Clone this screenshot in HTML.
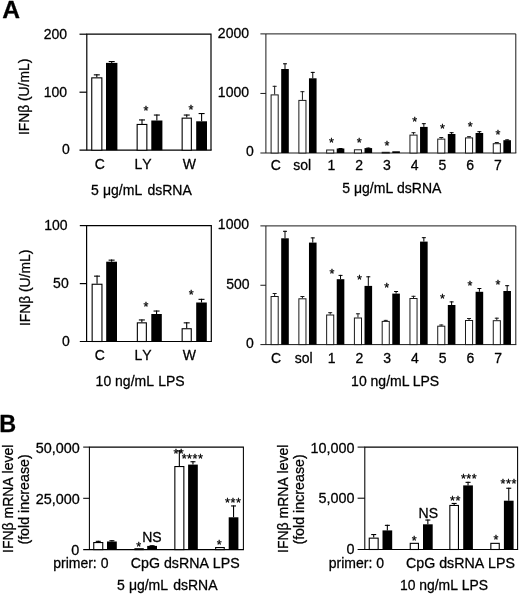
<!DOCTYPE html>
<html lang="en">
<head>
<meta charset="utf-8">
<title>Figure</title>
<style>
html,body{margin:0;padding:0;background:#fff;}
body{width:520px;height:595px;overflow:hidden;}
svg{display:block;will-change:transform;}
svg text{font-family:"Liberation Sans",Arial,Helvetica,sans-serif;fill:#000;stroke:#000;stroke-width:0.28px;stroke-linejoin:round;font-kerning:none;font-variant-ligatures:none;}
</style>
</head>
<body>
<svg width="520" height="595" viewBox="0 0 520 595">
<rect x="0" y="0" width="520" height="595" fill="#fff"/>
<text x="2.20" y="18.20" font-size="24.6" text-anchor="start" font-weight="bold">A</text>
<text x="-0.80" y="431.50" font-size="23.4" text-anchor="start" font-weight="bold">B</text>
<path d="M86.80 150.20V34.20H211.00V150.20" fill="none" stroke="#000" stroke-width="1.2" stroke-linejoin="miter"/>
<line x1="79.50" y1="150.20" x2="211.60" y2="150.20" stroke="#000" stroke-width="1.2"/>
<line x1="79.50" y1="34.20" x2="86.80" y2="34.20" stroke="#000" stroke-width="1.2"/>
<line x1="79.50" y1="92.20" x2="86.80" y2="92.20" stroke="#000" stroke-width="1.2"/>
<text x="67.00" y="38.61" font-size="14.0" text-anchor="end">200</text>
<text x="67.00" y="96.61" font-size="14.0" text-anchor="end">100</text>
<text x="69.90" y="154.01" font-size="14.0" text-anchor="end">0</text>
<text transform="translate(29.30 135.10) rotate(-90)" font-size="13.85">IFNβ (U/mL)</text>
<rect x="91.75" y="77.85" width="10.10" height="72.35" fill="#fff" stroke="#000" stroke-width="1.1"/>
<line x1="96.80" y1="77.30" x2="96.80" y2="74.30" stroke="#000" stroke-width="1.1"/>
<line x1="93.80" y1="74.85" x2="99.80" y2="74.85" stroke="#000" stroke-width="1.1"/>
<rect x="106.00" y="62.90" width="11.40" height="87.30" fill="#000"/>
<line x1="111.70" y1="62.90" x2="111.70" y2="61.00" stroke="#000" stroke-width="1.1"/>
<line x1="108.70" y1="61.55" x2="114.70" y2="61.55" stroke="#000" stroke-width="1.1"/>
<rect x="137.15" y="124.45" width="9.70" height="25.75" fill="#fff" stroke="#000" stroke-width="1.1"/>
<line x1="142.00" y1="123.90" x2="142.00" y2="119.40" stroke="#000" stroke-width="1.1"/>
<line x1="139.00" y1="119.95" x2="145.00" y2="119.95" stroke="#000" stroke-width="1.1"/>
<rect x="151.30" y="120.50" width="11.10" height="29.70" fill="#000"/>
<line x1="156.85" y1="120.50" x2="156.85" y2="114.50" stroke="#000" stroke-width="1.1"/>
<line x1="153.85" y1="115.05" x2="159.85" y2="115.05" stroke="#000" stroke-width="1.1"/>
<rect x="182.15" y="118.15" width="9.20" height="32.05" fill="#fff" stroke="#000" stroke-width="1.1"/>
<line x1="186.75" y1="117.60" x2="186.75" y2="114.50" stroke="#000" stroke-width="1.1"/>
<line x1="183.75" y1="115.05" x2="189.75" y2="115.05" stroke="#000" stroke-width="1.1"/>
<rect x="196.20" y="121.30" width="10.80" height="28.90" fill="#000"/>
<line x1="201.60" y1="121.30" x2="201.60" y2="113.00" stroke="#000" stroke-width="1.1"/>
<line x1="198.60" y1="113.55" x2="204.60" y2="113.55" stroke="#000" stroke-width="1.1"/>
<text x="146.18" y="115.14" font-size="12.6" text-anchor="middle" letter-spacing="0.55">*</text>
<text x="191.28" y="113.94" font-size="12.6" text-anchor="middle" letter-spacing="0.55">*</text>
<text x="99.70" y="169.00" font-size="14.0" text-anchor="middle">C</text>
<text x="143.00" y="169.00" font-size="14.0" text-anchor="middle">LY</text>
<text x="189.30" y="169.00" font-size="14.0" text-anchor="middle">W</text>
<text x="91.00" y="195.00" font-size="14.0" text-anchor="start">5 <tspan dx="0.3">μg/mL</tspan> <tspan dx="1.3">dsRNA</tspan></text>
<path d="M265.90 153.00V33.90H515.80V153.00" fill="none" stroke="#1a1a1a" stroke-width="1.0" stroke-linejoin="miter"/>
<line x1="260.40" y1="153.00" x2="516.30" y2="153.00" stroke="#1a1a1a" stroke-width="1.0"/>
<line x1="260.40" y1="33.90" x2="265.90" y2="33.90" stroke="#1a1a1a" stroke-width="1.0"/>
<line x1="260.40" y1="93.45" x2="265.90" y2="93.45" stroke="#1a1a1a" stroke-width="1.0"/>
<text x="249.00" y="37.61" font-size="14.0" text-anchor="end">2000</text>
<text x="249.00" y="97.11" font-size="14.0" text-anchor="end">1000</text>
<text x="253.90" y="156.21" font-size="14.0" text-anchor="end">0</text>
<rect x="271.10" y="94.90" width="7.10" height="58.10" fill="#fff" stroke="#1a1a1a" stroke-width="1.0"/>
<line x1="274.65" y1="94.40" x2="274.65" y2="85.80" stroke="#1a1a1a" stroke-width="1.0"/>
<line x1="272.65" y1="86.30" x2="276.65" y2="86.30" stroke="#1a1a1a" stroke-width="1.0"/>
<rect x="281.20" y="69.00" width="7.60" height="84.00" fill="#000"/>
<line x1="285.00" y1="69.00" x2="285.00" y2="63.30" stroke="#000" stroke-width="1.0"/>
<line x1="283.00" y1="63.80" x2="287.00" y2="63.80" stroke="#000" stroke-width="1.0"/>
<rect x="298.87" y="100.40" width="7.10" height="52.60" fill="#fff" stroke="#1a1a1a" stroke-width="1.0"/>
<line x1="302.42" y1="99.90" x2="302.42" y2="91.20" stroke="#1a1a1a" stroke-width="1.0"/>
<line x1="300.42" y1="91.70" x2="304.42" y2="91.70" stroke="#1a1a1a" stroke-width="1.0"/>
<rect x="308.97" y="78.30" width="7.60" height="74.70" fill="#000"/>
<line x1="312.77" y1="78.30" x2="312.77" y2="71.90" stroke="#000" stroke-width="1.0"/>
<line x1="310.77" y1="72.40" x2="314.77" y2="72.40" stroke="#000" stroke-width="1.0"/>
<rect x="326.64" y="150.00" width="7.10" height="3.00" fill="#fff" stroke="#1a1a1a" stroke-width="1.0"/>
<rect x="336.74" y="148.50" width="7.60" height="4.50" fill="#000"/>
<line x1="340.54" y1="148.50" x2="340.54" y2="148.00" stroke="#000" stroke-width="1.0"/>
<line x1="338.54" y1="148.50" x2="342.54" y2="148.50" stroke="#000" stroke-width="1.0"/>
<rect x="354.41" y="149.80" width="7.10" height="3.20" fill="#fff" stroke="#1a1a1a" stroke-width="1.0"/>
<rect x="364.51" y="148.10" width="7.60" height="4.90" fill="#000"/>
<line x1="368.31" y1="148.10" x2="368.31" y2="147.60" stroke="#000" stroke-width="1.0"/>
<line x1="366.31" y1="148.10" x2="370.31" y2="148.10" stroke="#000" stroke-width="1.0"/>
<rect x="382.18" y="152.30" width="7.10" height="0.70" fill="#fff" stroke="#1a1a1a" stroke-width="1.0"/>
<rect x="392.28" y="151.30" width="7.60" height="1.70" fill="#000"/>
<rect x="409.95" y="135.10" width="7.10" height="17.90" fill="#fff" stroke="#1a1a1a" stroke-width="1.0"/>
<line x1="413.50" y1="134.60" x2="413.50" y2="132.20" stroke="#1a1a1a" stroke-width="1.0"/>
<line x1="411.50" y1="132.70" x2="415.50" y2="132.70" stroke="#1a1a1a" stroke-width="1.0"/>
<rect x="420.05" y="126.90" width="7.60" height="26.10" fill="#000"/>
<line x1="423.85" y1="126.90" x2="423.85" y2="123.20" stroke="#000" stroke-width="1.0"/>
<line x1="421.85" y1="123.70" x2="425.85" y2="123.70" stroke="#000" stroke-width="1.0"/>
<rect x="437.72" y="139.10" width="7.10" height="13.90" fill="#fff" stroke="#1a1a1a" stroke-width="1.0"/>
<line x1="441.27" y1="138.60" x2="441.27" y2="137.00" stroke="#1a1a1a" stroke-width="1.0"/>
<line x1="439.27" y1="137.50" x2="443.27" y2="137.50" stroke="#1a1a1a" stroke-width="1.0"/>
<rect x="447.82" y="134.00" width="7.60" height="19.00" fill="#000"/>
<line x1="451.62" y1="134.00" x2="451.62" y2="132.20" stroke="#000" stroke-width="1.0"/>
<line x1="449.62" y1="132.70" x2="453.62" y2="132.70" stroke="#000" stroke-width="1.0"/>
<rect x="465.49" y="137.90" width="7.10" height="15.10" fill="#fff" stroke="#1a1a1a" stroke-width="1.0"/>
<line x1="469.04" y1="137.40" x2="469.04" y2="136.20" stroke="#1a1a1a" stroke-width="1.0"/>
<line x1="467.04" y1="136.70" x2="471.04" y2="136.70" stroke="#1a1a1a" stroke-width="1.0"/>
<rect x="475.59" y="133.00" width="7.60" height="20.00" fill="#000"/>
<line x1="479.39" y1="133.00" x2="479.39" y2="131.20" stroke="#000" stroke-width="1.0"/>
<line x1="477.39" y1="131.70" x2="481.39" y2="131.70" stroke="#000" stroke-width="1.0"/>
<rect x="493.26" y="143.70" width="7.10" height="9.30" fill="#fff" stroke="#1a1a1a" stroke-width="1.0"/>
<line x1="496.81" y1="143.20" x2="496.81" y2="142.00" stroke="#1a1a1a" stroke-width="1.0"/>
<line x1="494.81" y1="142.50" x2="498.81" y2="142.50" stroke="#1a1a1a" stroke-width="1.0"/>
<rect x="503.36" y="140.20" width="7.60" height="12.80" fill="#000"/>
<line x1="507.16" y1="140.20" x2="507.16" y2="139.40" stroke="#000" stroke-width="1.0"/>
<line x1="505.16" y1="139.90" x2="509.16" y2="139.90" stroke="#000" stroke-width="1.0"/>
<text x="275.80" y="170.40" font-size="14.0" text-anchor="middle">C</text>
<text x="302.27" y="170.40" font-size="14.0" text-anchor="middle">sol</text>
<text x="331.62" y="147.44" font-size="12.6" text-anchor="middle" letter-spacing="0.55">*</text>
<text x="331.34" y="170.40" font-size="14.0" text-anchor="middle">1</text>
<text x="359.38" y="146.84" font-size="12.6" text-anchor="middle" letter-spacing="0.55">*</text>
<text x="359.11" y="170.40" font-size="14.0" text-anchor="middle">2</text>
<text x="387.15" y="150.24" font-size="12.6" text-anchor="middle" letter-spacing="0.55">*</text>
<text x="386.88" y="170.40" font-size="14.0" text-anchor="middle">3</text>
<text x="414.93" y="125.73" font-size="12.6" text-anchor="middle" letter-spacing="0.55">*</text>
<text x="414.65" y="170.40" font-size="14.0" text-anchor="middle">4</text>
<text x="442.69" y="132.94" font-size="12.6" text-anchor="middle" letter-spacing="0.55">*</text>
<text x="442.42" y="170.40" font-size="14.0" text-anchor="middle">5</text>
<text x="470.46" y="131.03" font-size="12.6" text-anchor="middle" letter-spacing="0.55">*</text>
<text x="470.19" y="170.40" font-size="14.0" text-anchor="middle">6</text>
<text x="498.23" y="139.13" font-size="12.6" text-anchor="middle" letter-spacing="0.55">*</text>
<text x="497.96" y="170.40" font-size="14.0" text-anchor="middle">7</text>
<text x="342.30" y="192.60" font-size="14.0" text-anchor="start">5 μg/mL dsRNA</text>
<path d="M86.60 341.50V225.60H211.30V341.50" fill="none" stroke="#000" stroke-width="1.2" stroke-linejoin="miter"/>
<line x1="79.80" y1="341.50" x2="211.90" y2="341.50" stroke="#000" stroke-width="1.2"/>
<line x1="79.80" y1="225.60" x2="86.60" y2="225.60" stroke="#000" stroke-width="1.2"/>
<line x1="79.80" y1="283.60" x2="86.60" y2="283.60" stroke="#000" stroke-width="1.2"/>
<text x="67.60" y="229.71" font-size="14.0" text-anchor="end">100</text>
<text x="68.70" y="287.81" font-size="14.0" text-anchor="end">50</text>
<text x="69.80" y="345.71" font-size="14.0" text-anchor="end">0</text>
<text transform="translate(29.70 326.10) rotate(-90)" font-size="13.85">IFNβ (U/mL)</text>
<rect x="92.15" y="284.25" width="9.80" height="57.25" fill="#fff" stroke="#000" stroke-width="1.1"/>
<line x1="97.05" y1="283.70" x2="97.05" y2="275.60" stroke="#000" stroke-width="1.1"/>
<line x1="94.05" y1="276.15" x2="100.05" y2="276.15" stroke="#000" stroke-width="1.1"/>
<rect x="106.20" y="261.70" width="10.80" height="79.80" fill="#000"/>
<line x1="111.60" y1="261.70" x2="111.60" y2="259.60" stroke="#000" stroke-width="1.1"/>
<line x1="108.60" y1="260.15" x2="114.60" y2="260.15" stroke="#000" stroke-width="1.1"/>
<rect x="137.35" y="322.85" width="9.00" height="18.65" fill="#fff" stroke="#000" stroke-width="1.1"/>
<line x1="141.85" y1="322.30" x2="141.85" y2="319.40" stroke="#000" stroke-width="1.1"/>
<line x1="138.85" y1="319.95" x2="144.85" y2="319.95" stroke="#000" stroke-width="1.1"/>
<rect x="151.30" y="314.00" width="10.50" height="27.50" fill="#000"/>
<line x1="156.55" y1="314.00" x2="156.55" y2="310.50" stroke="#000" stroke-width="1.1"/>
<line x1="153.55" y1="311.05" x2="159.55" y2="311.05" stroke="#000" stroke-width="1.1"/>
<rect x="182.15" y="328.75" width="9.10" height="12.75" fill="#fff" stroke="#000" stroke-width="1.1"/>
<line x1="186.70" y1="328.20" x2="186.70" y2="322.30" stroke="#000" stroke-width="1.1"/>
<line x1="183.70" y1="322.85" x2="189.70" y2="322.85" stroke="#000" stroke-width="1.1"/>
<rect x="196.20" y="302.50" width="10.60" height="39.00" fill="#000"/>
<line x1="201.50" y1="302.50" x2="201.50" y2="298.80" stroke="#000" stroke-width="1.1"/>
<line x1="198.50" y1="299.35" x2="204.50" y2="299.35" stroke="#000" stroke-width="1.1"/>
<text x="146.18" y="310.94" font-size="12.6" text-anchor="middle" letter-spacing="0.55">*</text>
<text x="191.38" y="299.44" font-size="12.6" text-anchor="middle" letter-spacing="0.55">*</text>
<text x="99.70" y="360.30" font-size="14.0" text-anchor="middle">C</text>
<text x="143.00" y="360.30" font-size="14.0" text-anchor="middle">LY</text>
<text x="189.30" y="360.30" font-size="14.0" text-anchor="middle">W</text>
<text x="95.60" y="386.00" font-size="14.0" text-anchor="start">10 ng/mL <tspan dx="0.3">LPS</tspan></text>
<path d="M265.90 344.60V225.90H515.80V344.60" fill="none" stroke="#1a1a1a" stroke-width="1.0" stroke-linejoin="miter"/>
<line x1="260.40" y1="344.60" x2="516.30" y2="344.60" stroke="#1a1a1a" stroke-width="1.0"/>
<line x1="260.40" y1="225.90" x2="265.90" y2="225.90" stroke="#1a1a1a" stroke-width="1.0"/>
<line x1="260.40" y1="285.25" x2="265.90" y2="285.25" stroke="#1a1a1a" stroke-width="1.0"/>
<text x="249.00" y="229.31" font-size="14.0" text-anchor="end">1000</text>
<text x="249.50" y="289.11" font-size="14.0" text-anchor="end">500</text>
<text x="253.90" y="348.41" font-size="14.0" text-anchor="end">0</text>
<rect x="271.10" y="296.50" width="7.10" height="48.10" fill="#fff" stroke="#1a1a1a" stroke-width="1.0"/>
<line x1="274.65" y1="296.00" x2="274.65" y2="293.00" stroke="#1a1a1a" stroke-width="1.0"/>
<line x1="272.65" y1="293.50" x2="276.65" y2="293.50" stroke="#1a1a1a" stroke-width="1.0"/>
<rect x="281.20" y="238.30" width="7.60" height="106.30" fill="#000"/>
<line x1="285.00" y1="238.30" x2="285.00" y2="230.80" stroke="#000" stroke-width="1.0"/>
<line x1="283.00" y1="231.30" x2="287.00" y2="231.30" stroke="#000" stroke-width="1.0"/>
<rect x="298.87" y="298.80" width="7.10" height="45.80" fill="#fff" stroke="#1a1a1a" stroke-width="1.0"/>
<line x1="302.42" y1="298.30" x2="302.42" y2="296.00" stroke="#1a1a1a" stroke-width="1.0"/>
<line x1="300.42" y1="296.50" x2="304.42" y2="296.50" stroke="#1a1a1a" stroke-width="1.0"/>
<rect x="308.97" y="242.60" width="7.60" height="102.00" fill="#000"/>
<line x1="312.77" y1="242.60" x2="312.77" y2="237.40" stroke="#000" stroke-width="1.0"/>
<line x1="310.77" y1="237.90" x2="314.77" y2="237.90" stroke="#000" stroke-width="1.0"/>
<rect x="326.64" y="315.00" width="7.10" height="29.60" fill="#fff" stroke="#1a1a1a" stroke-width="1.0"/>
<line x1="330.19" y1="314.50" x2="330.19" y2="312.20" stroke="#1a1a1a" stroke-width="1.0"/>
<line x1="328.19" y1="312.70" x2="332.19" y2="312.70" stroke="#1a1a1a" stroke-width="1.0"/>
<rect x="336.74" y="279.20" width="7.60" height="65.40" fill="#000"/>
<line x1="340.54" y1="279.20" x2="340.54" y2="274.90" stroke="#000" stroke-width="1.0"/>
<line x1="338.54" y1="275.40" x2="342.54" y2="275.40" stroke="#000" stroke-width="1.0"/>
<rect x="354.41" y="318.00" width="7.10" height="26.60" fill="#fff" stroke="#1a1a1a" stroke-width="1.0"/>
<line x1="357.96" y1="317.50" x2="357.96" y2="313.30" stroke="#1a1a1a" stroke-width="1.0"/>
<line x1="355.96" y1="313.80" x2="359.96" y2="313.80" stroke="#1a1a1a" stroke-width="1.0"/>
<rect x="364.51" y="285.90" width="7.60" height="58.70" fill="#000"/>
<line x1="368.31" y1="285.90" x2="368.31" y2="276.30" stroke="#000" stroke-width="1.0"/>
<line x1="366.31" y1="276.80" x2="370.31" y2="276.80" stroke="#000" stroke-width="1.0"/>
<rect x="382.18" y="321.40" width="7.10" height="23.20" fill="#fff" stroke="#1a1a1a" stroke-width="1.0"/>
<line x1="385.73" y1="320.90" x2="385.73" y2="319.90" stroke="#1a1a1a" stroke-width="1.0"/>
<line x1="383.73" y1="320.40" x2="387.73" y2="320.40" stroke="#1a1a1a" stroke-width="1.0"/>
<rect x="392.28" y="293.60" width="7.60" height="51.00" fill="#000"/>
<line x1="396.08" y1="293.60" x2="396.08" y2="291.00" stroke="#000" stroke-width="1.0"/>
<line x1="394.08" y1="291.50" x2="398.08" y2="291.50" stroke="#000" stroke-width="1.0"/>
<rect x="409.95" y="298.50" width="7.10" height="46.10" fill="#fff" stroke="#1a1a1a" stroke-width="1.0"/>
<line x1="413.50" y1="298.00" x2="413.50" y2="295.80" stroke="#1a1a1a" stroke-width="1.0"/>
<line x1="411.50" y1="296.30" x2="415.50" y2="296.30" stroke="#1a1a1a" stroke-width="1.0"/>
<rect x="420.05" y="241.60" width="7.60" height="103.00" fill="#000"/>
<line x1="423.85" y1="241.60" x2="423.85" y2="237.20" stroke="#000" stroke-width="1.0"/>
<line x1="421.85" y1="237.70" x2="425.85" y2="237.70" stroke="#000" stroke-width="1.0"/>
<rect x="437.72" y="326.20" width="7.10" height="18.40" fill="#fff" stroke="#1a1a1a" stroke-width="1.0"/>
<line x1="441.27" y1="325.70" x2="441.27" y2="324.50" stroke="#1a1a1a" stroke-width="1.0"/>
<line x1="439.27" y1="325.00" x2="443.27" y2="325.00" stroke="#1a1a1a" stroke-width="1.0"/>
<rect x="447.82" y="305.00" width="7.60" height="39.60" fill="#000"/>
<line x1="451.62" y1="305.00" x2="451.62" y2="301.40" stroke="#000" stroke-width="1.0"/>
<line x1="449.62" y1="301.90" x2="453.62" y2="301.90" stroke="#000" stroke-width="1.0"/>
<rect x="465.49" y="320.50" width="7.10" height="24.10" fill="#fff" stroke="#1a1a1a" stroke-width="1.0"/>
<line x1="469.04" y1="320.00" x2="469.04" y2="318.00" stroke="#1a1a1a" stroke-width="1.0"/>
<line x1="467.04" y1="318.50" x2="471.04" y2="318.50" stroke="#1a1a1a" stroke-width="1.0"/>
<rect x="475.59" y="291.80" width="7.60" height="52.80" fill="#000"/>
<line x1="479.39" y1="291.80" x2="479.39" y2="288.00" stroke="#000" stroke-width="1.0"/>
<line x1="477.39" y1="288.50" x2="481.39" y2="288.50" stroke="#000" stroke-width="1.0"/>
<rect x="493.26" y="320.70" width="7.10" height="23.90" fill="#fff" stroke="#1a1a1a" stroke-width="1.0"/>
<line x1="496.81" y1="320.20" x2="496.81" y2="317.70" stroke="#1a1a1a" stroke-width="1.0"/>
<line x1="494.81" y1="318.20" x2="498.81" y2="318.20" stroke="#1a1a1a" stroke-width="1.0"/>
<rect x="503.36" y="291.00" width="7.60" height="53.60" fill="#000"/>
<line x1="507.16" y1="291.00" x2="507.16" y2="285.20" stroke="#000" stroke-width="1.0"/>
<line x1="505.16" y1="285.70" x2="509.16" y2="285.70" stroke="#000" stroke-width="1.0"/>
<text x="276.00" y="363.20" font-size="14.0" text-anchor="middle">C</text>
<text x="303.77" y="363.20" font-size="14.0" text-anchor="middle">sol</text>
<text x="332.17" y="277.54" font-size="12.6" text-anchor="middle" letter-spacing="0.55">*</text>
<text x="331.54" y="363.20" font-size="14.0" text-anchor="middle">1</text>
<text x="359.77" y="284.04" font-size="12.6" text-anchor="middle" letter-spacing="0.55">*</text>
<text x="359.31" y="363.20" font-size="14.0" text-anchor="middle">2</text>
<text x="387.07" y="292.44" font-size="12.6" text-anchor="middle" letter-spacing="0.55">*</text>
<text x="387.08" y="363.20" font-size="14.0" text-anchor="middle">3</text>
<text x="414.85" y="363.20" font-size="14.0" text-anchor="middle">4</text>
<text x="442.77" y="303.33" font-size="12.6" text-anchor="middle" letter-spacing="0.55">*</text>
<text x="442.62" y="363.20" font-size="14.0" text-anchor="middle">5</text>
<text x="470.17" y="289.83" font-size="12.6" text-anchor="middle" letter-spacing="0.55">*</text>
<text x="470.39" y="363.20" font-size="14.0" text-anchor="middle">6</text>
<text x="498.17" y="289.44" font-size="12.6" text-anchor="middle" letter-spacing="0.55">*</text>
<text x="498.16" y="363.20" font-size="14.0" text-anchor="middle">7</text>
<text x="351.10" y="385.60" font-size="14.0" text-anchor="start">10 ng/mL <tspan dx="-0.7">LPS</tspan></text>
<path d="M89.40 549.60V447.10H243.40V549.60" fill="none" stroke="#000" stroke-width="1.05" stroke-linejoin="miter"/>
<line x1="83.20" y1="549.60" x2="243.93" y2="549.60" stroke="#000" stroke-width="1.05"/>
<line x1="83.20" y1="447.10" x2="89.40" y2="447.10" stroke="#000" stroke-width="1.05"/>
<line x1="83.20" y1="498.30" x2="89.40" y2="498.30" stroke="#000" stroke-width="1.05"/>
<text x="79.80" y="452.56" font-size="14.4" text-anchor="end">50,000</text>
<text x="79.80" y="503.56" font-size="14.4" text-anchor="end">25,000</text>
<text x="79.20" y="554.56" font-size="14.4" text-anchor="end">0</text>
<text transform="translate(12.60 553.00) rotate(-90)" font-size="14.0">IFNβ mRNA level</text>
<text transform="translate(29.20 544.60) rotate(-90)" font-size="14.25">(fold increase)</text>
<rect x="93.75" y="542.55" width="9.00" height="7.05" fill="#fff" stroke="#000" stroke-width="1.1"/>
<line x1="98.25" y1="542.00" x2="98.25" y2="540.80" stroke="#000" stroke-width="1.1"/>
<line x1="95.75" y1="541.35" x2="100.75" y2="541.35" stroke="#000" stroke-width="1.1"/>
<rect x="107.00" y="541.50" width="9.80" height="8.10" fill="#000"/>
<line x1="111.90" y1="541.50" x2="111.90" y2="540.20" stroke="#000" stroke-width="1.1"/>
<line x1="109.40" y1="540.75" x2="114.40" y2="540.75" stroke="#000" stroke-width="1.1"/>
<rect x="134.95" y="548.75" width="8.30" height="0.85" fill="#fff" stroke="#000" stroke-width="1.1"/>
<rect x="147.20" y="545.90" width="9.80" height="3.70" fill="#000"/>
<line x1="152.10" y1="545.90" x2="152.10" y2="545.20" stroke="#000" stroke-width="1.1"/>
<line x1="149.60" y1="545.75" x2="154.60" y2="545.75" stroke="#000" stroke-width="1.1"/>
<rect x="174.85" y="466.55" width="9.00" height="83.05" fill="#fff" stroke="#000" stroke-width="1.1"/>
<line x1="179.35" y1="466.00" x2="179.35" y2="450.40" stroke="#000" stroke-width="1.1"/>
<line x1="176.85" y1="450.95" x2="181.85" y2="450.95" stroke="#000" stroke-width="1.1"/>
<rect x="188.10" y="464.60" width="9.70" height="85.00" fill="#000"/>
<line x1="192.95" y1="464.60" x2="192.95" y2="461.20" stroke="#000" stroke-width="1.1"/>
<line x1="190.45" y1="461.75" x2="195.45" y2="461.75" stroke="#000" stroke-width="1.1"/>
<rect x="215.65" y="547.55" width="8.60" height="2.05" fill="#fff" stroke="#000" stroke-width="1.1"/>
<rect x="228.70" y="517.30" width="9.70" height="32.30" fill="#000"/>
<line x1="233.55" y1="517.30" x2="233.55" y2="505.40" stroke="#000" stroke-width="1.1"/>
<line x1="231.05" y1="505.95" x2="236.05" y2="505.95" stroke="#000" stroke-width="1.1"/>
<text x="138.88" y="550.93" font-size="12.6" text-anchor="middle" letter-spacing="0.55">*</text>
<text x="178.88" y="458.04" font-size="12.6" text-anchor="middle" letter-spacing="0.55">**</text>
<text x="192.58" y="463.33" font-size="12.6" text-anchor="middle" letter-spacing="0.55">****</text>
<text x="219.58" y="548.73" font-size="12.6" text-anchor="middle" letter-spacing="0.55">*</text>
<text x="233.28" y="507.04" font-size="12.6" text-anchor="middle" letter-spacing="0.55">***</text>
<text x="142.20" y="541.70" font-size="14.0" text-anchor="start">NS</text>
<text x="53.20" y="567.80" font-size="14.0" text-anchor="start">primer: 0</text>
<text x="130.80" y="567.80" font-size="14.2" text-anchor="start">CpG dsRNA LPS</text>
<text x="117.00" y="590.00" font-size="14.0" text-anchor="start">5 <tspan dx="0.2">μg/mL</tspan> <tspan dx="1.2">dsRNA</tspan></text>
<path d="M364.80 549.50V447.10H517.60V549.50" fill="none" stroke="#000" stroke-width="1.05" stroke-linejoin="miter"/>
<line x1="357.60" y1="549.50" x2="518.12" y2="549.50" stroke="#000" stroke-width="1.05"/>
<line x1="357.60" y1="447.10" x2="364.80" y2="447.10" stroke="#000" stroke-width="1.05"/>
<line x1="357.60" y1="498.20" x2="364.80" y2="498.20" stroke="#000" stroke-width="1.05"/>
<text x="354.50" y="452.56" font-size="14.4" text-anchor="end">10,000</text>
<text x="354.50" y="503.36" font-size="14.4" text-anchor="end">5,000</text>
<text x="354.50" y="554.36" font-size="14.4" text-anchor="end">0</text>
<text transform="translate(287.60 553.00) rotate(-90)" font-size="14.0">IFNβ mRNA level</text>
<text transform="translate(304.20 544.60) rotate(-90)" font-size="14.25">(fold increase)</text>
<rect x="369.25" y="538.15" width="8.90" height="11.35" fill="#fff" stroke="#000" stroke-width="1.1"/>
<line x1="373.70" y1="537.60" x2="373.70" y2="534.00" stroke="#000" stroke-width="1.1"/>
<line x1="371.20" y1="534.55" x2="376.20" y2="534.55" stroke="#000" stroke-width="1.1"/>
<rect x="382.50" y="530.40" width="9.70" height="19.10" fill="#000"/>
<line x1="387.35" y1="530.40" x2="387.35" y2="524.80" stroke="#000" stroke-width="1.1"/>
<line x1="384.85" y1="525.35" x2="389.85" y2="525.35" stroke="#000" stroke-width="1.1"/>
<rect x="410.25" y="543.35" width="8.20" height="6.15" fill="#fff" stroke="#000" stroke-width="1.1"/>
<rect x="423.00" y="524.30" width="9.70" height="25.20" fill="#000"/>
<line x1="427.85" y1="524.30" x2="427.85" y2="519.50" stroke="#000" stroke-width="1.1"/>
<line x1="425.35" y1="520.05" x2="430.35" y2="520.05" stroke="#000" stroke-width="1.1"/>
<rect x="449.85" y="505.45" width="8.60" height="44.05" fill="#fff" stroke="#000" stroke-width="1.1"/>
<line x1="454.15" y1="504.90" x2="454.15" y2="502.90" stroke="#000" stroke-width="1.1"/>
<line x1="451.65" y1="503.45" x2="456.65" y2="503.45" stroke="#000" stroke-width="1.1"/>
<rect x="463.20" y="485.40" width="9.70" height="64.10" fill="#000"/>
<line x1="468.05" y1="485.40" x2="468.05" y2="481.80" stroke="#000" stroke-width="1.1"/>
<line x1="465.55" y1="482.35" x2="470.55" y2="482.35" stroke="#000" stroke-width="1.1"/>
<rect x="490.85" y="543.35" width="8.40" height="6.15" fill="#fff" stroke="#000" stroke-width="1.1"/>
<rect x="503.90" y="500.70" width="9.70" height="48.80" fill="#000"/>
<line x1="508.75" y1="500.70" x2="508.75" y2="487.70" stroke="#000" stroke-width="1.1"/>
<line x1="506.25" y1="488.25" x2="511.25" y2="488.25" stroke="#000" stroke-width="1.1"/>
<text x="414.38" y="544.53" font-size="12.6" text-anchor="middle" letter-spacing="0.55">*</text>
<text x="455.47" y="504.83" font-size="12.6" text-anchor="middle" letter-spacing="0.55">**</text>
<text x="469.07" y="483.44" font-size="12.6" text-anchor="middle" letter-spacing="0.55">***</text>
<text x="496.17" y="544.43" font-size="12.6" text-anchor="middle" letter-spacing="0.55">*</text>
<text x="508.77" y="488.13" font-size="12.6" text-anchor="middle" letter-spacing="0.55">***</text>
<text x="418.60" y="518.00" font-size="14.0" text-anchor="start">NS</text>
<text x="328.80" y="567.80" font-size="14.0" text-anchor="start">primer: 0</text>
<text x="406.10" y="567.80" font-size="14.2" text-anchor="start">CpG dsRNA LPS</text>
<text x="400.00" y="590.30" font-size="13.9" text-anchor="start">10 ng/mL LPS</text>
</svg>
</body>
</html>
